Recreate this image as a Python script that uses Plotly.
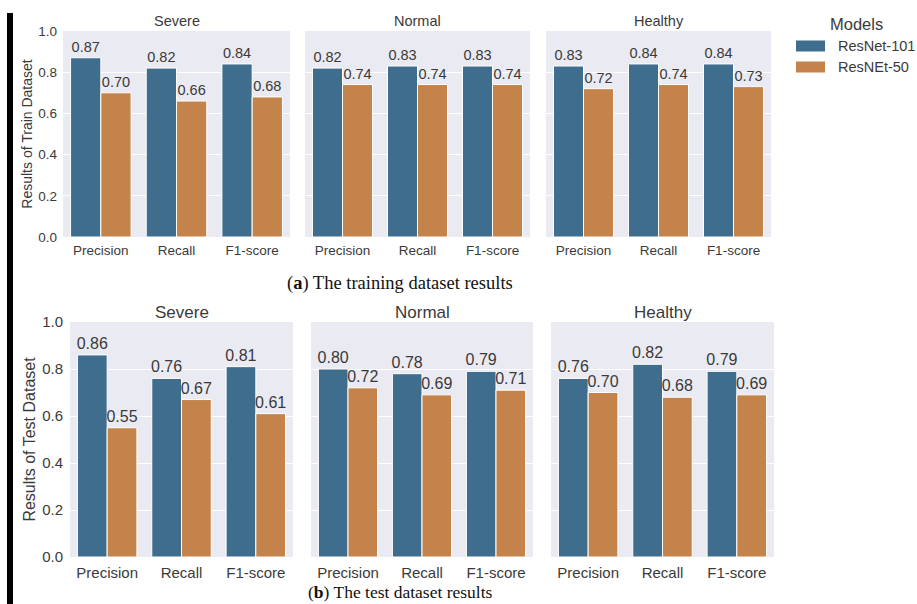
import plotly.graph_objects as go

W, H = 917, 604

metrics = ["Precision", "Recall", "F1-score"]
classes = ["Severe", "Normal", "Healthy"]
models = ["ResNet-101", "ResNEt-50"]

train_resnet101 = {"Severe": [0.87, 0.82, 0.84], "Normal": [0.82, 0.83, 0.83], "Healthy": [0.83, 0.84, 0.84]}
train_resnet50 = {"Severe": [0.70, 0.66, 0.68], "Normal": [0.74, 0.74, 0.74], "Healthy": [0.72, 0.74, 0.73]}
test_resnet101 = {"Severe": [0.86, 0.76, 0.81], "Normal": [0.80, 0.78, 0.79], "Healthy": [0.76, 0.82, 0.79]}
test_resnet50 = {"Severe": [0.55, 0.67, 0.61], "Normal": [0.72, 0.69, 0.71], "Healthy": [0.70, 0.68, 0.69]}

y_ticks = [0.0, 0.2, 0.4, 0.6, 0.8, 1.0]
y_ticklabels = ["0.0", "0.2", "0.4", "0.6", "0.8", "1.0"]

colors = ["#3e6d8e", "#c4834a"]
BG = "#eaeaf2"
TXT = "#3a3a3a"
FONT = "Liberation Sans, Arial, sans-serif"
SERIF = "Liberation Serif, DejaVu Serif, serif"


def px_x(p):
    return p / W


def px_y(p):
    return 1 - p / H


rows = [
    dict(data=[train_resnet101, train_resnet50], ydom=(237, 31), title_y=21,
         xdoms=[(63, 290), (305, 530), (546, 771)],
         ytitle="Results of Train Dataset", tick=13.5, title=14.5, label=14.5, ytf=14,
         standoff=2, tlstand=5, xtlstand=3),
    dict(data=[test_resnet101, test_resnet50], ydom=(557, 322), title_y=312,
         xdoms=[(70, 293), (311, 533), (551, 774)],
         ytitle="Results of Test Dataset", tick=15, title=17, label=16, ytf=16,
         standoff=2, tlstand=6, xtlstand=5),
]

fig = go.Figure()
layout = dict(width=W, height=H, margin=dict(l=0, r=0, t=0, b=0, autoexpand=False),
              paper_bgcolor="white", plot_bgcolor=BG, showlegend=False,
              barmode="group", bargap=0.2, bargroupgap=0.0,
              font=dict(family=FONT, color=TXT))
annotations = []
shapes = []

k = 0
for r, row in enumerate(rows):
    for c, cls in enumerate(classes):
        k += 1
        xa = "x" if k == 1 else f"x{k}"
        ya = "y" if k == 1 else f"y{k}"
        for m, model in enumerate(models):
            vals = row["data"][m][cls]
            fig.add_trace(go.Bar(
                x=metrics, y=vals, name=model, xaxis=xa, yaxis=ya,
                marker=dict(color=colors[m], line=dict(color="white", width=1)),
                texttemplate="%{y:.2f}", textposition="outside",
                constraintext="none", cliponaxis=False,
                textfont=dict(size=row["label"], color=TXT, family=FONT),
                offsetgroup=str(m), showlegend=False,
            ))
        x0, x1 = row["xdoms"][c]
        yb, yt = row["ydom"]
        layout["xaxis" if k == 1 else f"xaxis{k}"] = dict(
            domain=[px_x(x0), px_x(x1)], anchor=ya, type="category", automargin=False,
            range=[-0.5, 2.5], showgrid=False, zeroline=False, showline=False,
            ticks="", ticklabelstandoff=row["xtlstand"],
            tickfont=dict(size=row["tick"], color=TXT, family=FONT))
        layout["yaxis" if k == 1 else f"yaxis{k}"] = dict(
            domain=[px_y(yb), px_y(yt)], anchor=xa, range=[0, 1.0], automargin=False,
            tickvals=y_ticks, ticktext=y_ticklabels, showticklabels=(c == 0),
            showgrid=True, gridcolor="white", gridwidth=1, zeroline=False,
            showline=False, ticks="", ticklabelstandoff=row["tlstand"],
            tickfont=dict(size=row["tick"], color=TXT, family=FONT),
            title=dict(text=row["ytitle"] if c == 0 else "",
                       font=dict(size=row["ytf"], color=TXT, family=FONT),
                       standoff=row["standoff"]))
        annotations.append(dict(
            text=cls, xref="paper", yref="paper",
            x=px_x((x0 + x1) / 2), y=px_y(row["title_y"]), xanchor="center", yanchor="middle",
            showarrow=False, font=dict(size=row["title"], color=TXT, family=FONT)))

# captions
annotations.append(dict(
    text="(<b>a</b>) The training dataset results", xref="paper", yref="paper",
    x=px_x(400), y=px_y(283), xanchor="center", yanchor="middle", showarrow=False,
    font=dict(size=18.5, color="#111111", family=SERIF)))
annotations.append(dict(
    text="(<b>b</b>) The test dataset results", xref="paper", yref="paper",
    x=px_x(400), y=px_y(592), xanchor="center", yanchor="middle", showarrow=False,
    font=dict(size=17.5, color="#111111", family=SERIF)))

# legend (drawn)
annotations.append(dict(
    text="Models", xref="paper", yref="paper", x=px_x(856), y=px_y(24),
    xanchor="center", yanchor="middle", showarrow=False,
    font=dict(size=16.5, color=TXT, family=FONT)))
leg_y = [46, 67]
for m, model in enumerate(models):
    shapes.append(dict(type="rect", xref="paper", yref="paper",
                       x0=px_x(796), x1=px_x(825), y0=px_y(leg_y[m] + 5.5), y1=px_y(leg_y[m] - 5.5),
                       fillcolor=colors[m], line=dict(width=0)))
    annotations.append(dict(
        text=model, xref="paper", yref="paper", x=px_x(836), y=px_y(leg_y[m]),
        xanchor="left", yanchor="middle", showarrow=False,
        font=dict(size=14.5, color=TXT, family=FONT)))

# black left rule
shapes.append(dict(type="rect", xref="paper", yref="paper",
                   x0=px_x(7), x1=px_x(13), y0=0, y1=px_y(13),
                   fillcolor="black", line=dict(width=0)))

layout["annotations"] = annotations
layout["shapes"] = shapes
fig.update_layout(**layout)
fig.write_html("out.html")
